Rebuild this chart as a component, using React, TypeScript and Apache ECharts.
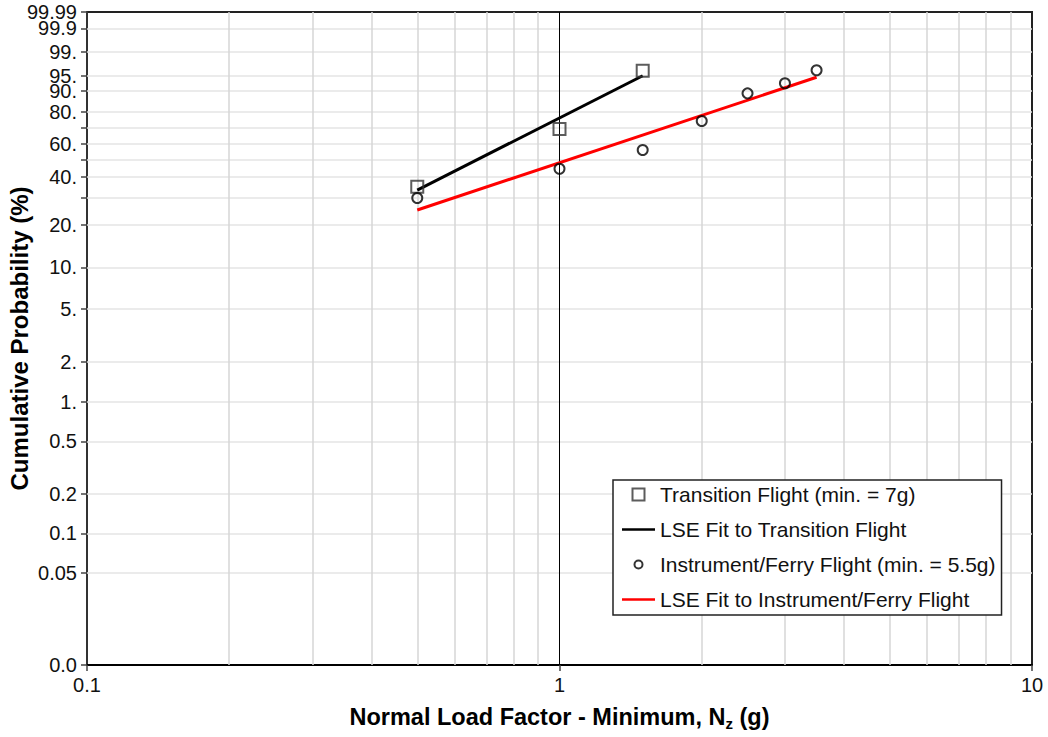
import React, { useEffect, useRef } from "react";
import * as echarts from "echarts";

// ---- data (percent cumulative probability vs. minimum normal load factor) ----
const transitionLoad = [0.5, 1, 1.5];
const transitionProb = [35.1, 69.5, 96.3];
const instrumentLoad = [0.5, 1, 1.5, 2, 2.5, 3, 3.5];
const instrumentProb = [29.9, 44.7, 56.1, 74.5, 89.1, 92.9, 96.4];
const transitionFitLoad = [0.5, 1.5];
const transitionFitProb = [33.5, 95.1];
const instrumentFitLoad = [0.5, 3.5];
const instrumentFitProb = [25.0, 94.7];

// ---- axis ticks ----
const yTickProbs = [0.01, 0.05, 0.1, 0.2, 0.5, 1, 2, 5, 10, 20, 30, 40, 50, 60, 70, 80, 90, 95, 99, 99.9, 99.99];
const yTickLabels = ["0.0", "0.05", "0.1", "0.2", "0.5", "1.", "2.", "5.", "10.", "20.", "", "40.", "", "60.", "", "80.", "90.", "95.", "99.", "99.9", "99.99"];
const xGridValues = [0.2, 0.3, 0.4, 0.5, 0.6, 0.7, 0.8, 0.9, 2, 3, 4, 5, 6, 7, 8, 9];
const xTickLabels = ["0.1", "1", "10"];

const seriesNames = [
  "Transition Flight (min. = 7g)",
  "LSE Fit to Transition Flight",
  "Instrument/Ferry Flight (min. = 5.5g)",
  "LSE Fit to Instrument/Ferry Flight",
];

// Weibull probability-paper transform
const weibull = (p: number) => Math.log(-Math.log(1 - p / 100));
const yTickValues = yTickProbs.map(weibull);
const Y_MIN = weibull(0.01);
const Y_MAX = weibull(99.99);

const FONT = "'Liberation Sans', Arial, sans-serif";

function xLabel(v: number): string {
  const e = Math.round(Math.log10(v));
  return xTickLabels[e + 1] ?? String(v);
}

const pair = (xs: number[], ps: number[]) => xs.map((x, i) => [x, weibull(ps[i])]);

export default function App() {
  const ref = useRef<HTMLDivElement>(null);

  useEffect(() => {
    document.body.style.margin = "0";
    if (!ref.current) return;
    const chart = echarts.init(ref.current, undefined, { renderer: "svg" });

    // horizontal grid lines, carrying the y tick labels at their left end
    const hGrid = yTickProbs.map((p, i) => {
      const isEdge = i === 0 || i === yTickProbs.length - 1;
      const text = yTickLabels[i];
      return [
        {
          coord: [0.1, weibull(p)],
          lineStyle: { color: isEdge ? "rgba(0,0,0,0)" : "#e4e4e4", width: 1.5, type: "solid" },
          label: {
            show: text !== "",
            position: "start",
            distance: 10,
            formatter: text,
            fontSize: 20,
            color: "#111",
            fontFamily: FONT,
          },
        },
        { coord: [10, weibull(p)] },
      ];
    });
    const vGrid = xGridValues.map((x) => [
      { coord: [x, Y_MIN], lineStyle: { color: "#d6d6d6", width: 1.5, type: "solid" }, label: { show: false } },
      { coord: [x, Y_MAX] },
    ]);
    const oneLine = [
      [
        { coord: [1, Y_MIN], lineStyle: { color: "#000", width: 1, type: "solid" }, label: { show: false } },
        { coord: [1, Y_MAX] },
      ],
    ];

    const lineIcon = "path://M0,0h33v2.5h-33z";
    const squareIcon = "path://M0,0h10v10h-10z";
    const circleIcon = "path://M0,0M12,12M2,6a4,4 0 1,0 8,0a4,4 0 1,0 -8,0z";

    chart.setOption({
      animation: false,
      backgroundColor: "#fff",
      textStyle: { fontFamily: FONT },
      grid: {
        left: 87,
        right: 16,
        top: 12,
        bottom: 72,
        containLabel: false,
        outerBoundsMode: "none",
        show: true,
        borderColor: "#222",
        borderWidth: 2,
        backgroundColor: "#fff",
      },
      legend: {
        orient: "vertical",
        left: 613,
        top: 480,
        backgroundColor: "#fff",
        borderColor: "#222",
        borderWidth: 1.5,
        borderRadius: 0,
        padding: [4, 6, 5, 9],
        itemGap: 14,
        itemWidth: 33,
        itemHeight: 12,
        textStyle: { fontSize: 21, color: "#111", fontFamily: FONT },
        data: [
          { name: seriesNames[0], icon: squareIcon },
          { name: seriesNames[1], icon: lineIcon },
          { name: seriesNames[2], icon: circleIcon },
          { name: seriesNames[3], icon: lineIcon },
        ],
        selectedMode: false,
      },
      xAxis: {
        type: "log",
        logBase: 10,
        min: 0.1,
        max: 10,
        axisLine: { show: true, onZero: false, lineStyle: { color: "#000", width: 2 } },
        axisTick: { show: true, inside: false, length: 6, lineStyle: { color: "#444", width: 1.5 } },
        axisLabel: { fontSize: 20, color: "#111", margin: 10, formatter: xLabel, showMinLabel: true, showMaxLabel: true },
        splitLine: { show: false },
        minorTick: { show: false },
        minorSplitLine: { show: false },
        name: "Normal Load Factor - Minimum, N{sub|z} (g)",
        nameLocation: "middle",
        nameGap: 37,
        nameMoveOverlap: false,
        nameTextStyle: {
          fontSize: 23.5,
          fontWeight: "bold",
          color: "#000",
          fontFamily: FONT,
          rich: {
            sub: { fontSize: 15, fontWeight: "bold", color: "#000", fontFamily: FONT, padding: [14, 0, 0, 0] },
          },
        },
      },
      yAxis: {
        type: "value",
        min: Y_MIN,
        max: Y_MAX,
        axisLine: { show: true, onZero: false, lineStyle: { color: "#333", width: 2 } },
        axisTick: {
          show: true,
          inside: false,
          length: 6,
          customValues: yTickValues,
          lineStyle: { color: "#444", width: 1.5 },
        },
        axisLabel: { show: false },
        splitLine: { show: false },
        name: "Cumulative Probability (%)",
        nameLocation: "middle",
        nameGap: 56,
        nameMoveOverlap: false,
        nameTextStyle: { fontSize: 24, fontWeight: "bold", color: "#000", fontFamily: FONT },
      },
      series: [
        {
          name: "gridlines",
          type: "line",
          data: [[1, weibull(50)]],
          showSymbol: false,
          symbol: "none",
          lineStyle: { width: 0, opacity: 0 },
          silent: true,
          z: 0,
          markLine: {
            silent: true,
            z: 1,
            symbol: ["none", "none"],
            emphasis: { disabled: true },
            data: [...hGrid, ...vGrid, ...oneLine],
          },
        },
        {
          name: seriesNames[1],
          type: "line",
          data: pair(transitionFitLoad, transitionFitProb),
          symbol: "none",
          lineStyle: { color: "#000", width: 3 },
          itemStyle: { color: "#000" },
          z: 3,
        },
        {
          name: seriesNames[3],
          type: "line",
          data: pair(instrumentFitLoad, instrumentFitProb),
          symbol: "none",
          lineStyle: { color: "#ff0000", width: 3 },
          itemStyle: { color: "#ff0000" },
          z: 3,
        },
        {
          name: seriesNames[0],
          type: "scatter",
          data: pair(transitionLoad, transitionProb),
          symbol: "rect",
          symbolSize: 12,
          itemStyle: { color: "rgba(255,255,255,0)", borderColor: "#333", borderWidth: 2 },
          z: 4,
        },
        {
          name: seriesNames[2],
          type: "scatter",
          data: pair(instrumentLoad, instrumentProb),
          symbol: "circle",
          symbolSize: 10,
          itemStyle: { color: "rgba(255,255,255,0)", borderColor: "#000", borderWidth: 2 },
          z: 4,
        },
      ],
    });

    return () => chart.dispose();
  }, []);

  return <div ref={ref} style={{ width: 1048, height: 737 }} />;
}
